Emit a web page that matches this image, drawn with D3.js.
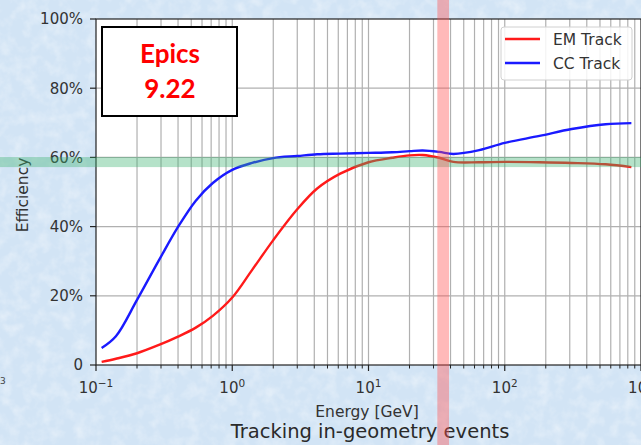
<!DOCTYPE html>
<html>
<head>
<meta charset="utf-8">
<script src="https://cdn.jsdelivr.net/npm/d3@7"></script>
<style>
  html, body { margin: 0; padding: 0; }
  body { width: 641px; height: 445px; overflow: hidden; }
</style>
</head>
<body>
<div id="chart"></div>
<script>
// energies in GeV (log-spaced points)
const energy = [0.11, 0.14, 0.2, 0.29, 0.4, 0.54, 0.72, 1.0, 1.4, 2.0, 3.0, 4.2, 6.2, 10, 15, 20, 25, 33, 42, 65, 100, 180, 310, 550, 850];
// efficiency in %
const emTrack = [0.9, 1.8, 3.4, 5.8, 8.2, 10.8, 14.2, 19.5, 27.5, 36.1, 45.0, 51.0, 55.3, 58.6, 59.9, 60.6, 60.7, 59.9, 58.7, 58.6, 58.7, 58.6, 58.4, 58.0, 57.2];
const ccTrack = [4.9, 8.3, 18.8, 30.3, 39.9, 47.5, 52.6, 56.4, 58.4, 59.8, 60.4, 60.9, 61.1, 61.3, 61.5, 61.8, 62.0, 61.6, 61.0, 62.1, 64.2, 66.2, 68.2, 69.6, 69.9];

const seriesNames = ["EM Track", "CC Track"];
const seriesColors = ["#ff1a1a", "#1a1aff"];

const yTicks = [0, 20, 40, 60, 80, 100];
const yTickLabels = ["0", "20%", "40%", "60%", "80%", "100%"];
const xMajor = [0.1, 1, 10, 100, 1000];
const xMajorExp = ["\u22121", "0", "1", "2", "3"];

// highlighted regions drawn over the slide
const greenBand = [57.2, 60.1];   // efficiency %
const redBand = [32, 39];         // GeV

const W = 641, H = 445;
const font = "'DejaVu Sans', sans-serif";

const svg = d3.select("#chart").append("svg")
  .attr("width", W)
  .attr("height", H);

// slide background (light blue paper texture)
const defs = svg.append("defs");
const filt = defs.append("filter").attr("id", "paper").attr("x", 0).attr("y", 0).attr("width", "100%").attr("height", "100%");
filt.append("feTurbulence").attr("type", "fractalNoise").attr("baseFrequency", 0.08).attr("numOctaves", 3).attr("seed", 4).attr("result", "n");
filt.append("feColorMatrix").attr("in", "n").attr("type", "matrix")
  .attr("values", "0 0 0 0 1  0 0 0 0 1  0 0 0 0 1  0 0 0 1.1 -0.45");

svg.append("rect").attr("width", W).attr("height", H).attr("fill", "#d2e4f5");
svg.append("rect").attr("width", W).attr("height", H).attr("filter", "url(#paper)").attr("opacity", 0.7);

const x = d3.scaleLog().domain([0.1, 1000]).range([96, 641]);
const y = d3.scaleLinear().domain([0, 100]).range([365, 19]);

// plot area
svg.append("rect")
  .attr("x", x(0.1)).attr("y", y(100))
  .attr("width", x(1000) - x(0.1)).attr("height", y(0) - y(100))
  .attr("fill", "white");

// grid: major + minor vertical lines
const xGrid = [];
for (let p = -1; p < 3; p++) {
  for (let m = 1; m < 10; m++) xGrid.push(m * Math.pow(10, p));
}
svg.append("g").selectAll("line")
  .data(xGrid.filter(d => d > 0.1))
  .join("line")
  .attr("x1", d => x(d)).attr("x2", d => x(d))
  .attr("y1", y(0)).attr("y2", y(100))
  .attr("stroke", "#b0b0b0").attr("stroke-width", 1.2);

svg.append("g").selectAll("line")
  .data(yTicks.slice(1, -1))
  .join("line")
  .attr("x1", x(0.1)).attr("x2", x(1000))
  .attr("y1", d => y(d)).attr("y2", d => y(d))
  .attr("stroke", "#b0b0b0").attr("stroke-width", 1.2);

// curves
const line = d3.line().curve(d3.curveCatmullRom.alpha(0.5));
[emTrack, ccTrack].forEach((vals, i) => {
  svg.append("path")
    .attr("d", line(energy.map((e, j) => [x(e), y(vals[j])])))
    .attr("fill", "none")
    .attr("stroke", seriesColors[i])
    .attr("stroke-width", 2.4)
    .attr("stroke-linejoin", "round");
});

// spines
svg.append("rect")
  .attr("x", x(0.1)).attr("y", y(100))
  .attr("width", x(1000) - x(0.1)).attr("height", y(0) - y(100))
  .attr("fill", "none").attr("stroke", "#222").attr("stroke-width", 1.2);

// y axis ticks + labels
const yAxis = svg.append("g");
yAxis.selectAll("line").data(yTicks).join("line")
  .attr("x1", x(0.1) - 6).attr("x2", x(0.1))
  .attr("y1", d => y(d)).attr("y2", d => y(d))
  .attr("stroke", "#222").attr("stroke-width", 1.2);
yAxis.selectAll("text").data(yTicks).join("text")
  .attr("x", x(0.1) - 13).attr("y", d => y(d))
  .attr("dy", "0.36em")
  .attr("text-anchor", "end")
  .attr("font-family", font).attr("font-size", 15)
  .attr("fill", "#333")
  .text((d, i) => yTickLabels[i]);

// x axis ticks
const xAxis = svg.append("g");
xAxis.selectAll("line.minor").data(xGrid.filter(d => !xMajor.includes(d)))
  .join("line").attr("class", "minor")
  .attr("x1", d => x(d)).attr("x2", d => x(d))
  .attr("y1", y(0)).attr("y2", y(0) + 3.5)
  .attr("stroke", "#222").attr("stroke-width", 1);
xAxis.selectAll("line.major").data(xMajor)
  .join("line").attr("class", "major")
  .attr("x1", d => x(d)).attr("x2", d => x(d))
  .attr("y1", y(0)).attr("y2", y(0) + 6)
  .attr("stroke", "#222").attr("stroke-width", 1.2);
const xl = xAxis.selectAll("text").data(xMajor).join("text")
  .attr("x", d => x(d)).attr("y", 393)
  .attr("text-anchor", "middle")
  .attr("font-family", font).attr("font-size", 15)
  .attr("fill", "#333");
xl.append("tspan").text("10");
xl.append("tspan").attr("dy", -6).attr("font-size", 10.5).text((d, i) => xMajorExp[i]);

// axis titles
svg.append("text")
  .attr("x", 367).attr("y", 417)
  .attr("text-anchor", "middle")
  .attr("font-family", font).attr("font-size", 15.5)
  .attr("fill", "#333")
  .text("Energy [GeV]");

svg.append("text")
  .attr("transform", "translate(28,195) rotate(-90)")
  .attr("text-anchor", "middle")
  .attr("font-family", font).attr("font-size", 15.5)
  .attr("fill", "#333")
  .text("Efficiency");

// legend
const lg = svg.append("g");
lg.append("rect")
  .attr("x", 501).attr("y", 27).attr("width", 131).attr("height", 53).attr("rx", 3)
  .attr("fill", "white").attr("fill-opacity", 0.85)
  .attr("stroke", "#d0d0d0");
seriesNames.forEach((name, i) => {
  const ly = 39 + i * 24;
  lg.append("line")
    .attr("x1", 505).attr("x2", 540).attr("y1", ly).attr("y2", ly)
    .attr("stroke", seriesColors[i]).attr("stroke-width", 2.4);
  lg.append("text")
    .attr("x", 553).attr("y", ly + 6)
    .attr("font-family", font).attr("font-size", 15.5)
    .attr("fill", "#333")
    .text(name);
});

// "Epics 9.22" annotation box
svg.append("rect")
  .attr("x", 102).attr("y", 27).attr("width", 135).attr("height", 89)
  .attr("fill", "white").attr("stroke", "black").attr("stroke-width", 2);
svg.append("text")
  .attr("x", 170).attr("y", 63)
  .attr("text-anchor", "middle")
  .attr("font-family", "Lato, 'Open Sans', sans-serif").attr("font-weight", "bold").attr("font-size", 26)
  .attr("fill", "#ff0000")
  .text("Epics");
svg.append("text")
  .attr("x", 170).attr("y", 98)
  .attr("text-anchor", "middle")
  .attr("font-family", "Lato, 'Open Sans', sans-serif").attr("font-weight", "bold").attr("font-size", 26)
  .attr("fill", "#ff0000")
  .text("9.22");

// slide caption
svg.append("text")
  .attr("x", 370).attr("y", 438)
  .attr("text-anchor", "middle")
  .attr("font-family", font).attr("font-size", 19.5)
  .attr("fill", "#2a2a2a")
  .text("Tracking in-geometry events");

// stray label from neighbouring figure
svg.append("text")
  .attr("x", 0).attr("y", 384)
  .attr("font-family", font).attr("font-size", 9)
  .attr("fill", "#444")
  .text("3");

// overlays
svg.append("rect")
  .attr("x", 0).attr("width", W)
  .attr("y", y(greenBand[1])).attr("height", y(greenBand[0]) - y(greenBand[1]))
  .attr("fill", "#3cb371").attr("fill-opacity", 0.38);
svg.append("rect")
  .attr("x", x(redBand[0])).attr("width", x(redBand[1]) - x(redBand[0]))
  .attr("y", 0).attr("height", H)
  .attr("fill", "#ff5050").attr("fill-opacity", 0.4);
</script>
</body>
</html>
